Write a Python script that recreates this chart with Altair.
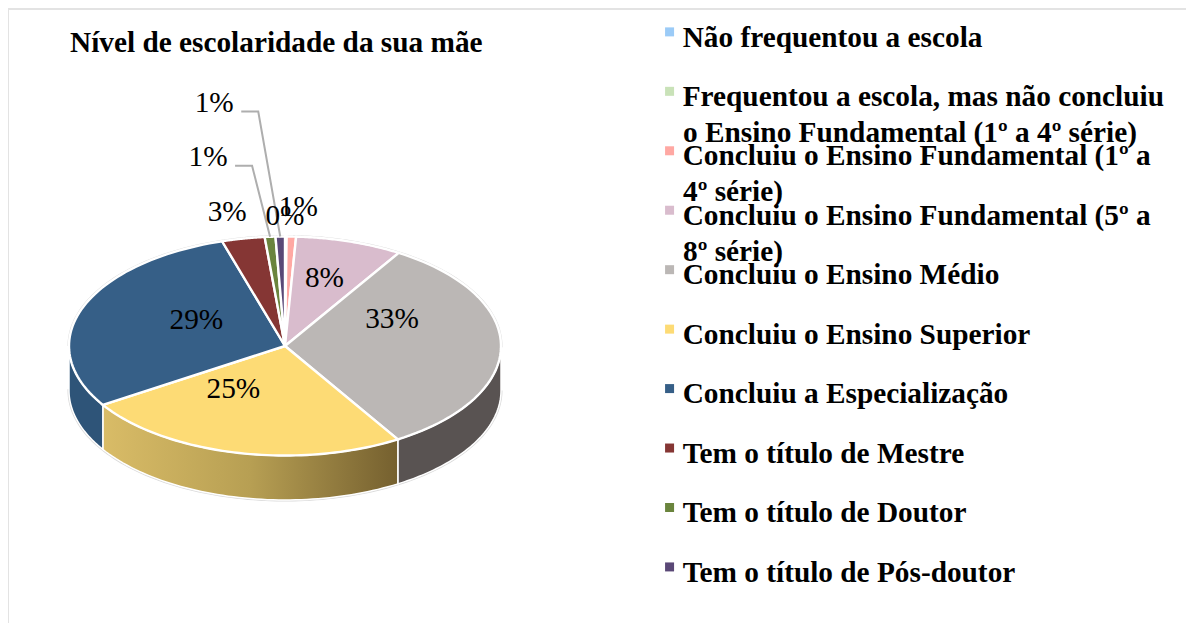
import numpy as np
import pandas as pd
import altair as alt

# ---- data ----
categories = [
    "Não frequentou a escola",
    "Frequentou a escola, mas não concluiu\no Ensino Fundamental (1º a 4º série)",
    "Concluiu o Ensino Fundamental (1º a\n4º série)",
    "Concluiu o Ensino Fundamental (5º a\n8º série)",
    "Concluiu o Ensino Médio",
    "Concluiu o Ensino Superior",
    "Concluiu a Especialização",
    "Tem o título de Mestre",
    "Tem o título de Doutor",
    "Tem o título de Pós-doutor",
]
values = [0.02, 0.1, 0.7, 8.0, 32.4, 24.7, 29.3, 3.2, 0.8, 0.7]
labels = ["", "0%", "1%", "8%", "33%", "25%", "29%", "3%", "1%", "1%"]
colors = ["#9BCBF7", "#C9E2B8", "#FFA8A3", "#D9BCCD", "#BBB7B5",
          "#FDDB75", "#365F87", "#853634", "#6A843D", "#5A4876"]

# ---- layout ----
W, H = 1178, 615
CX, CY, RX, RY, DEPTH = 277, 338, 216, 109.5, 44.5
# label offset from the rim midpoint of each slice's outer arc
label_dx = [0, -1, 7, -25, -109, -3, 114, -16, -62, -66]
label_dy = [0, -21, -30, 37, -27, -64, 12, -27, -80, -134]
SERIF = "Liberation Serif"
FS = 29.3
LEG_X, LEG_Y, ROW, LINE = 635.4, 14.9, 59.5, 35
LEG_TEXT_X, LEG_TEXT_Y = 675, 30

vals = np.array(values, dtype=float)
edges = np.concatenate([[0], np.cumsum(vals)]) / vals.sum() * 2 * np.pi


def rim(t, drop=0.0):
    return CX + RX * np.sin(t), CY - RY * np.cos(t) + drop


tops = []
for k, cat in enumerate(categories):
    ts = np.linspace(edges[k], edges[k + 1], 60)
    xs, ys = rim(ts)
    xs = np.concatenate([[CX], xs, [CX]])
    ys = np.concatenate([[CY], ys, [CY]])
    tops.append(pd.DataFrame({"cat": cat, "i": np.arange(len(xs)), "x": xs, "y": ys}))
tops = pd.concat(tops, ignore_index=True)


def side(k):
    a, b = max(edges[k], np.pi / 2), min(edges[k + 1], 1.5 * np.pi)
    ts = np.linspace(a, b, 60)
    x1, y1 = rim(ts)
    x2, y2 = rim(ts[::-1], DEPTH)
    xs = np.concatenate([x1, x2, x1[:1]])
    ys = np.concatenate([y1, y2, y1[:1]])
    return pd.DataFrame({"i": np.arange(len(xs)), "x": xs, "y": ys})


xs_enc = alt.X("x:Q", scale=alt.Scale(domain=[0, W], nice=False, zero=False), axis=None)
ys_enc = alt.Y("y:Q", scale=alt.Scale(domain=[H, 0], nice=False, zero=False), axis=None)

# silhouette
t_up = np.linspace(-np.pi / 2, np.pi / 2, 120)
ux, uy = rim(t_up)
lx, ly = rim(t_up[::-1] + np.pi, DEPTH)
sil = pd.DataFrame({"i": np.arange(240), "x": np.concatenate([ux, lx]), "y": np.concatenate([uy, ly])})
silhouette = alt.Chart(sil).mark_line(stroke="#DADADA", strokeWidth=3, fill="#DADADA").encode(
    x=xs_enc, y=ys_enc, order="i:Q")

side_fill = {
    4: "#595352",
    5: alt.Gradient(gradient="linear", x1=0, x2=1, y1=0, y2=0, stops=[
        alt.GradientStop(color="#D9BC67", offset=0),
        alt.GradientStop(color="#B79F53", offset=0.5),
        alt.GradientStop(color="#75602F", offset=1)]),
    6: "#2E5478",
}
sides = [
    alt.Chart(side(k)).mark_line(stroke="white", strokeWidth=1.5, fill=f).encode(
        x=xs_enc, y=ys_enc, order="i:Q")
    for k, f in side_fill.items()
]

wedges = alt.Chart(tops).mark_line(stroke="white", strokeWidth=2.4).encode(
    x=xs_enc, y=ys_enc, order="i:Q",
    fill=alt.Fill("cat:N", scale=alt.Scale(domain=categories, range=colors),
                  legend=alt.Legend(
                      orient="none", legendX=LEG_X, legendY=LEG_Y, title=None,
                      symbolType="M1.56,-2.26H3.56V-0.26H1.56Z", symbolSize=81,
                      symbolStrokeWidth=0,
                      labelFont=SERIF, labelFontWeight="bold", labelFontSize=FS,
                      labelColor="black", labelLimit=600, labelBaseline="middle",
                      labelExpr="split(datum.label, '\\n')[0]",
                      rowPadding=29.45, labelOffset=10,
                  )),
)

# second lines of the wrapped legend entries, which overflow into the next row
second = [(k, c.split("\n")[1]) for k, c in enumerate(categories) if "\n" in c]
wrap = pd.DataFrame({"t": [s for _, s in second],
                     "x": LEG_TEXT_X,
                     "y": [LEG_TEXT_Y + ROW * k + LINE for k, _ in second]})
wrapped = alt.Chart(wrap).mark_text(font=SERIF, fontSize=FS, fontWeight="bold", color="black",
                                    align="left", baseline="middle").encode(
    x=xs_enc, y=ys_enc, text="t:N")

# data labels
mid = (edges[:-1] + edges[1:]) / 2
mx, my = rim(mid)
lab = pd.DataFrame({"t": labels, "x": mx + np.array(label_dx), "y": my + np.array(label_dy)})
lab = lab[lab.t != ""]
texts = alt.Chart(lab).mark_text(font=SERIF, fontSize=FS, color="black", align="center", baseline="middle").encode(
    x=xs_enc, y=ys_enc, text="t:N")

# leader lines from the two outer labels to their slices
leaders = []
for k in (8, 9):
    rx0, ry0 = rim(mid[k])
    lx0 = mx[k] + label_dx[k] + 27
    ly0 = my[k] + label_dy[k] + 9
    leaders.append(pd.DataFrame({"k": k, "i": [0, 1, 2],
                                 "x": [lx0, lx0 + 17, rx0],
                                 "y": [ly0, ly0, ry0]}))
leader = alt.Chart(pd.concat(leaders)).mark_line(stroke="#AEAEAE", strokeWidth=2).encode(
    x=xs_enc, y=ys_enc, order="i:Q", detail="k:N")

# chart frame edges
frame_top = alt.Chart(pd.DataFrame({"y": [1]})).mark_rule(stroke="#E3E3E3", strokeWidth=2).encode(y=ys_enc)
frame_left = alt.Chart(pd.DataFrame({"x": [0]})).mark_rule(stroke="#E3E3E3", strokeWidth=2).encode(x=xs_enc)

chart = alt.layer(frame_top, frame_left, silhouette, *sides, wedges, leader, texts, wrapped).properties(
    width=W, height=H, padding=0,
    autosize=alt.AutoSizeParams(type="none", contains="padding"),
    title=alt.TitleParams("Nível de escolaridade da sua mãe", anchor="start", frame="group",
                          font=SERIF, fontWeight="bold", fontSize=FS, color="black",
                          dx=62, dy=74, offset=0, baseline="alphabetic"),
    background="white",
).configure(view=alt.ViewConfig(strokeWidth=0))

chart.save("out.html", embed_options={"renderer": "svg", "actions": False})
